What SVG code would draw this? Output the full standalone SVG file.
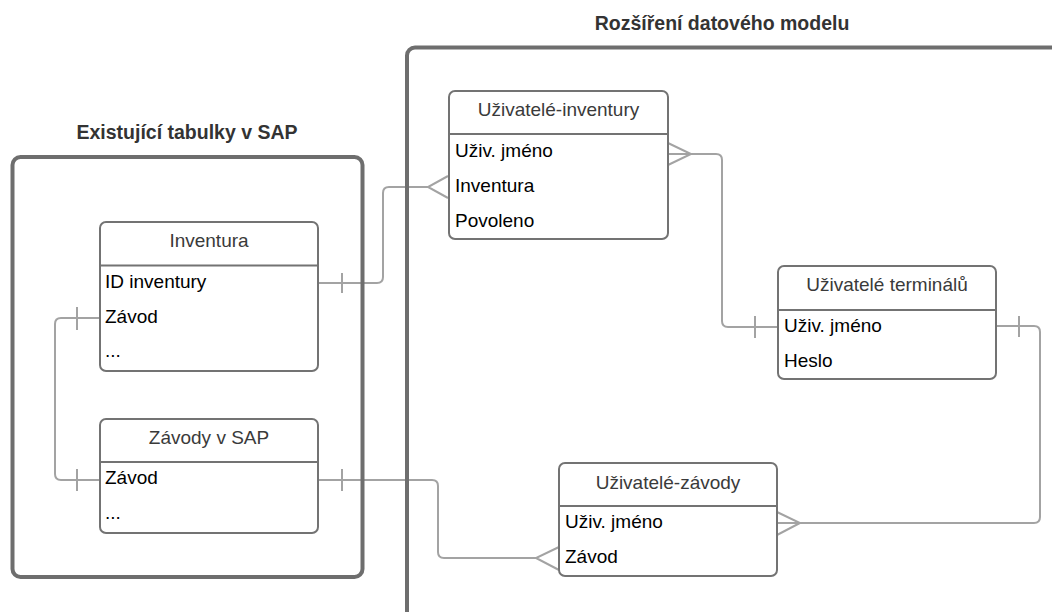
<svg xmlns="http://www.w3.org/2000/svg" width="1052" height="612" viewBox="0 0 1052 612">
<style>
.container{fill:none;stroke:#6e6e6e;stroke-width:4}
.tbl{fill:#fff;stroke:#737373;stroke-width:2}
.sep{stroke:#737373;stroke-width:2}
.conn{fill:none;stroke:#a3a3a3;stroke-width:2}
.title{font-family:"Liberation Sans",Arial,sans-serif;font-weight:bold;font-size:19.5px;fill:#333;text-anchor:middle}
.hdr{font-family:"Liberation Sans",Arial,sans-serif;font-size:19px;fill:#3a3a3a;text-anchor:middle}
.row{font-family:"Liberation Sans",Arial,sans-serif;font-size:19px;fill:#000}
</style>
<rect width="1052" height="612" fill="#fff"/>
<g id="connectors">
  <path class="conn" d="M100,318 H61 Q55,318 55,324 V474 Q55,480 61,480 H100"/>
  <path class="conn" d="M77,307 V330 M77,469 V491"/>
  <path class="conn" d="M318,283 H377 Q383,283 383,277 V193 Q383,187 389,187 H428"/>
  <path class="conn" d="M448,176 L428,187 L448,198 M342,273 V293"/>
  <path class="conn" d="M668,154 H716 Q722,154 722,160 V321 Q722,327 728,327 H778"/>
  <path class="conn" d="M668,143 L691,154 L668,165 M755,316 V338"/>
  <path class="conn" d="M996,326 H1034 Q1040,326 1040,332 V517 Q1040,523 1034,523 H777"/>
  <path class="conn" d="M777,512 L800,523 L777,535 M1019,316 V337"/>
  <path class="conn" d="M318,480 H432 Q438,480 438,486 V552 Q438,558 444,558 H536"/>
  <path class="conn" d="M559,547 L536,558 L559,570 M342,469 V491"/>
</g>
<g id="container-sap">
  <rect class="container" x="12.5" y="157" width="350" height="420" rx="8"/>
  <text class="title" x="187" y="139">Existující tabulky v SAP</text>
</g>
<g id="container-model">
  <rect class="container" x="407" y="47.5" width="700" height="700" rx="8"/>
  <text class="title" x="722" y="30">Rozšíření datového modelu</text>
</g>
<g id="inventura">
  <rect class="tbl" x="100" y="222" width="218" height="149" rx="6"/>
  <line class="sep" x1="100" y1="265.5" x2="318" y2="265.5"/>
  <text class="hdr" x="209" y="247">Inventura</text>
  <text class="row" x="105" y="288">ID inventury</text>
  <text class="row" x="105" y="323">Závod</text>
  <text class="row" x="105" y="357">...</text>
</g>
<g id="zavody-v-sap">
  <rect class="tbl" x="100" y="419" width="218" height="114" rx="6"/>
  <line class="sep" x1="100" y1="462" x2="318" y2="462"/>
  <text class="hdr" x="209" y="444">Závody v SAP</text>
  <text class="row" x="105" y="484">Závod</text>
  <text class="row" x="105" y="519">...</text>
</g>
<g id="uzivatele-inventury">
  <rect class="tbl" x="449" y="91" width="219" height="148" rx="6"/>
  <line class="sep" x1="449" y1="134" x2="668" y2="134"/>
  <text class="hdr" x="558.5" y="116">Uživatelé-inventury</text>
  <text class="row" x="455" y="156.5">Uživ. jméno</text>
  <text class="row" x="455" y="191.5">Inventura</text>
  <text class="row" x="455" y="226.5">Povoleno</text>
</g>
<g id="uzivatele-terminalu">
  <rect class="tbl" x="778" y="266" width="218" height="113" rx="6"/>
  <line class="sep" x1="778" y1="310" x2="996" y2="310"/>
  <text class="hdr" x="887" y="291">Uživatelé terminálů</text>
  <text class="row" x="784" y="332">Uživ. jméno</text>
  <text class="row" x="784" y="367">Heslo</text>
</g>
<g id="uzivatele-zavody">
  <rect class="tbl" x="559" y="463" width="218" height="113" rx="6"/>
  <line class="sep" x1="559" y1="506" x2="777" y2="506"/>
  <text class="hdr" x="668" y="488.5">Uživatelé-závody</text>
  <text class="row" x="565" y="528">Uživ. jméno</text>
  <text class="row" x="565" y="563">Závod</text>
</g>
</svg>
